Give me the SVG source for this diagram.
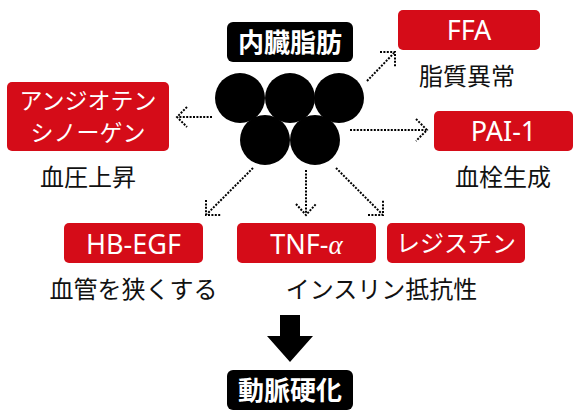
<svg xmlns="http://www.w3.org/2000/svg" width="580" height="420" viewBox="0 0 580 420">
<style>
.red{fill:#d50c18}
.blk{fill:#000}
.wt{fill:#fff;font-family:"Noto Sans","Noto Sans CJK JP",sans-serif;font-size:27px;text-anchor:middle}
.wj{fill:#fff;font-family:"Noto Sans CJK JP",sans-serif;font-size:24px;text-anchor:middle}
.wk{fill:#fff;font-family:"Noto Sans CJK JP",sans-serif;font-size:23px;text-anchor:middle}
.hd{fill:#fff;font-family:"Noto Sans CJK JP",sans-serif;font-size:26px;font-weight:bold;text-anchor:middle}
.lb{fill:#111;font-family:"Noto Sans CJK JP",sans-serif;font-size:24px;text-anchor:middle}
.dot{fill:none;stroke:#000;stroke-width:2;stroke-dasharray:2 1.4}
</style>
<rect width="580" height="420" fill="#fff"/>
<g id="connectors">
<path class="dot" d="M212,117 H178 M187,107 L177,117 L187,127"/>
<path class="dot" d="M350,130 H426 M416,119 L427,130 L416,141"/>
<path class="dot" d="M367,81 L394,53 M380,52 H395 V67"/>
<path class="dot" d="M253,168 L207,214 M206,200 V215 H221"/>
<path class="dot" d="M306,170 V214 M296,204 L306,215 L316,204"/>
<path class="dot" d="M336,168 L382,214 M368,215 H383 V200"/>
<polygon class="blk" points="280,315 300,315 300,336 313,336 290,362 267,336 280,336"/>
</g>
<g id="visceral-fat">
<rect class="blk" x="227" y="22" width="126" height="40" rx="6"/>
<text class="hd" x="290" y="52">内臓脂肪</text>
<circle class="blk" cx="240" cy="98" r="25"/>
<circle class="blk" cx="290" cy="98" r="25"/>
<circle class="blk" cx="339" cy="98" r="25"/>
<circle class="blk" cx="265" cy="140" r="25"/>
<circle class="blk" cx="315" cy="140" r="25"/>
</g>
<g id="ffa">
<rect class="red" x="398" y="10" width="142" height="40" rx="5"/>
<text class="wt" x="469" y="40">FFA</text>
<text class="lb" x="467" y="85">脂質異常</text>
</g>
<g id="pai1">
<rect class="red" x="434" y="111" width="139" height="40" rx="5"/>
<text class="wt" x="503.5" y="141">PAI-1</text>
<text class="lb" x="503" y="186">血栓生成</text>
</g>
<g id="angiotensinogen">
<rect class="red" x="7" y="82" width="162" height="69" rx="5"/>
<text class="wk" x="88" y="109">アンジオテン</text>
<text class="wk" x="88" y="141">シノーゲン</text>
<text class="lb" x="88" y="186">血圧上昇</text>
</g>
<g id="hbegf">
<rect class="red" x="64" y="223" width="139" height="40" rx="5"/>
<text class="wt" x="133.5" y="254">HB-EGF</text>
<text class="lb" x="133.5" y="298">血管を狭くする</text>
</g>
<g id="tnf">
<rect class="red" x="237" y="223" width="139" height="40" rx="5"/>
<text class="wt" x="306.5" y="254">TNF-<tspan font-style="italic" font-family="Liberation Serif, serif">α</tspan></text>
</g>
<g id="resistin">
<rect class="red" x="387" y="223" width="138" height="40" rx="5"/>
<text class="wj" x="456" y="252">レジスチン</text>
</g>
<g id="insulin-resistance">
<text class="lb" x="381.5" y="298">インスリン抵抗性</text>
</g>
<g id="atherosclerosis">
<rect class="blk" x="227" y="370" width="126" height="40" rx="6"/>
<text class="hd" x="290" y="400">動脈硬化</text>
</g>
</svg>
